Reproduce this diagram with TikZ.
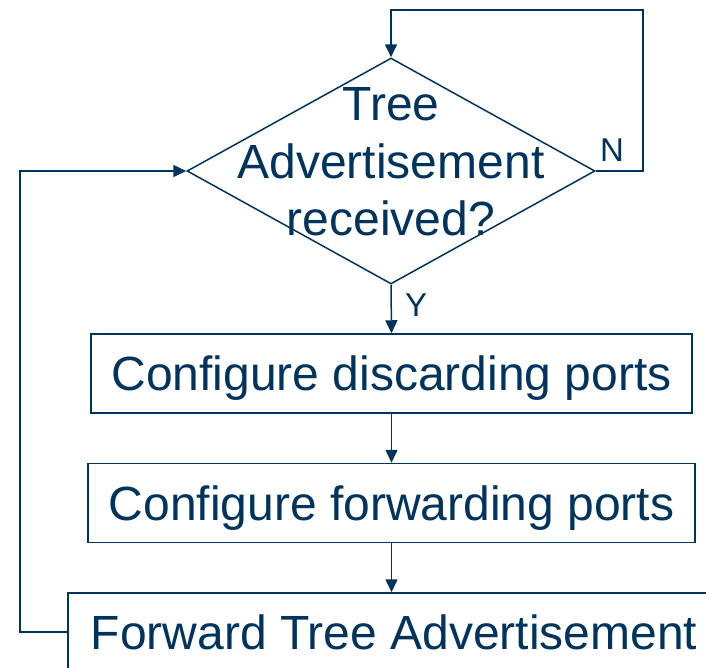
\documentclass[tikz,border=0pt]{standalone}
\usepackage{fontspec}
\setmainfont{Liberation Sans}
\usetikzlibrary{arrows.meta,shapes.geometric}
\definecolor{navy}{RGB}{0,51,94}
\begin{document}
\begin{tikzpicture}[x=1pt,y=-1pt,
  every node/.style={text=navy},
  boxnode/.style={draw=navy, line width=1.5pt, rectangle, inner sep=0pt, text depth=0pt,
    font=\fontsize{48}{57.5}\selectfont},
  decnode/.style={draw=navy, line width=1.5pt, diamond, inner sep=0pt,
    minimum width=408pt, minimum height=226pt},
  lbl/.style={font=\fontsize{33}{36}\selectfont, inner sep=0pt},
  arr/.style={draw=navy, line width=1.5pt, -{Triangle[length=13pt,width=12pt]}},
  ln/.style={draw=navy, line width=1.5pt}]
\useasboundingbox (0,0) rectangle (706,667);
\clip (0,0) rectangle (706,667);
\node[decnode] (d) at (391,171) {};
\node[align=center, font=\fontsize{48}{57.5}\selectfont, inner sep=0pt] (dt) at (391,162) {Tree\\Advertisement\\received?};
\node[boxnode, minimum width=601pt, minimum height=79pt] (b1) at (391.5,373.5) {Configure discarding ports};
\node[boxnode, minimum width=607pt, minimum height=79pt] (b2) at (391.5,503) {Configure forwarding ports};
\node[boxnode, minimum width=652pt, minimum height=78pt] (b3) at (394,632) {Forward Tree Advertisement};
\node[lbl, anchor=west] (ylab) at (405,305) {Y};
\node[lbl] (nlab) at (612,150) {N};
\coordinate (topc) at (391,10);
\coordinate (rightc) at (643,10);
\coordinate (leftc) at (20,171);
\draw[arr] (d.south) -- (b1.north);
\draw[arr] (b1.south) -- (b2.north);
\draw[arr] (b2.south) -- (b2.south |- b3.north);
\draw[arr] (d.east) -| (rightc) -- (topc) -- (d.north);
\draw[arr] (b3.west) -| (leftc) -- (d.west);
\end{tikzpicture}
\end{document}
